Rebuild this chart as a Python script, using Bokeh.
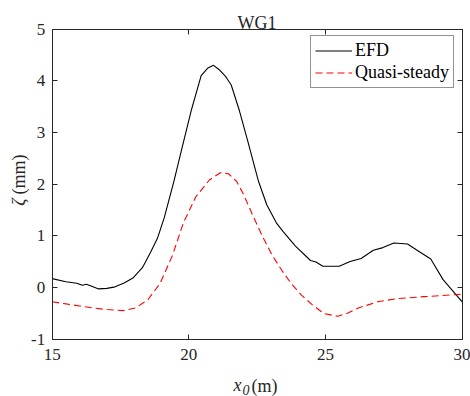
import math
from bokeh.plotting import figure
from bokeh.models import (LinearAxis, Label, Legend, LegendItem, Range1d,
                          FixedTicker, ColumnDataSource)
from bokeh.embed import file_html
from bokeh.resources import INLINE

# ---- data ----
efd_x = [15.0, 15.5, 15.9, 16.1, 16.25, 16.45, 16.7, 17.0, 17.3, 17.65, 17.95,
         18.3, 18.6, 18.85, 19.1, 19.45, 19.75, 20.1, 20.45, 20.7, 20.9, 21.1,
         21.35, 21.55, 21.85, 22.15, 22.55, 22.85, 23.2, 23.45, 23.9, 24.45,
         24.65, 24.9, 25.5, 25.9, 26.3, 26.75, 27.1, 27.5, 28.0, 28.35, 28.85,
         29.3, 30.0]
efd_y = [0.17, 0.11, 0.08, 0.04, 0.06, 0.02, -0.03, -0.02, 0.01, 0.09, 0.18,
         0.38, 0.68, 0.95, 1.35, 2.05, 2.7, 3.45, 4.1, 4.25, 4.30, 4.22,
         4.08, 3.92, 3.42, 2.84, 2.05, 1.6, 1.25, 1.08, 0.80, 0.52,
         0.49, 0.41, 0.41, 0.50, 0.56, 0.72, 0.77, 0.86, 0.84, 0.72, 0.55,
         0.15, -0.28]

qs_x = [15.0, 15.5, 16.0, 16.5, 17.0, 17.6, 18.05, 18.5, 18.95, 19.4, 19.8,
        20.25, 20.75, 21.15, 21.45, 21.75, 22.0, 22.35, 22.7, 23.05, 23.4,
        23.75, 24.1, 24.5, 24.95, 25.45, 25.8, 26.2, 26.9, 27.6, 28.6, 29.8, 30.0]
qs_y = [-0.28, -0.32, -0.36, -0.40, -0.43, -0.45, -0.40, -0.24, 0.08, 0.62, 1.25,
        1.75, 2.08, 2.22, 2.20, 2.05, 1.80, 1.38, 0.98, 0.62, 0.33,
        0.07, -0.14, -0.33, -0.51, -0.56, -0.50, -0.40, -0.28, -0.22, -0.18, -0.14, -0.13]

x_ticks = [15, 20, 25, 30]
y_ticks = [-1, 0, 1, 2, 3, 4, 5]
x_lim = (15, 30)
y_lim = (-1, 5)
title_text = "WG1"
series_names = ["EFD", "Quasi-steady"]

FONT = "Liberation Serif"
AX = "#262626"

# plot box inside the 470x396 canvas (pixels)
W, H = 470, 396
BOX_L, BOX_R, BOX_T, BOX_B = 51.7, 461.7, 28.7, 338.5
sx = (BOX_R - BOX_L) / (x_lim[1] - x_lim[0])
sy = (BOX_B - BOX_T) / (y_lim[1] - y_lim[0])
xr = Range1d(x_lim[0] - BOX_L / sx, x_lim[1] + (W - BOX_R) / sx)
yr_ = Range1d(y_lim[0] - (H - BOX_B) / sy, y_lim[1] + BOX_T / sy)


def px2x(px):
    return x_lim[0] + (px - BOX_L) / sx


def py2y(py):
    return y_lim[0] + (BOX_B - py) / sy


p = figure(width=W, height=H, output_backend="svg", toolbar_location=None,
           x_range=xr, y_range=yr_, min_border=0,
           x_axis_type=None, y_axis_type=None)
p.xgrid.visible = False
p.ygrid.visible = False
p.outline_line_color = None
p.background_fill_color = "white"
p.border_fill_color = "white"


def make_axis(ticks, loc, bounds, labels):
    ax = LinearAxis(ticker=FixedTicker(ticks=ticks), fixed_location=loc,
                    bounds=bounds)
    ax.axis_line_color = AX
    ax.major_tick_line_color = AX
    ax.major_tick_in = 5
    ax.major_tick_out = 0
    ax.minor_tick_line_color = None
    ax.major_label_text_font = FONT
    ax.major_label_text_font_size = "17px"
    ax.major_label_text_color = AX
    if labels:
        ax.major_label_overrides = {t: str(t) for t in ticks}
    else:
        ax.major_label_overrides = {t: "" for t in ticks}
    return ax


xb = make_axis(x_ticks, y_lim[0], x_lim, True)
xb.major_label_standoff = 10
yl = make_axis(y_ticks, x_lim[0], y_lim, True)
yl.major_label_standoff = 7
xt = make_axis(x_ticks, y_lim[1], x_lim, False)
yr = make_axis(y_ticks, x_lim[1], y_lim, False)
p.add_layout(xb, "below")
p.add_layout(yl, "left")
p.add_layout(xt, "above")
p.add_layout(yr, "right")

src_e = ColumnDataSource(dict(x=efd_x, y=efd_y))
src_q = ColumnDataSource(dict(x=qs_x, y=qs_y))
r1 = p.line("x", "y", source=src_e, line_color="black", line_width=1.1)
r2 = p.line("x", "y", source=src_q, line_color="#ff0000", line_width=1.1,
            line_dash="7 4")

leg = Legend(items=[LegendItem(label=series_names[0], renderers=[r1]),
                    LegendItem(label=series_names[1], renderers=[r2])],
             location=(310, H - 87.5))
leg.label_text_font = FONT
leg.label_text_font_size = "18px"
leg.label_text_color = "black"
leg.border_line_color = AX
leg.border_line_width = 1
leg.background_fill_color = "white"
leg.background_fill_alpha = 1
leg.glyph_width = 37
leg.glyph_height = 21
leg.label_height = 21
leg.label_standoff = 3
leg.padding = 4
leg.spacing = 1
leg.margin = 0
p.add_layout(leg)

# title
p.add_layout(Label(x=px2x(256.5), y=py2y(22), text=title_text,
                   text_font=FONT, text_font_size="18px", text_align="center",
                   text_baseline="alphabetic", text_color=AX))
# x label: x_0 (m)
p.add_layout(Label(x=px2x(233), y=py2y(384), text="x",
                   text_font=FONT, text_font_style="italic", text_font_size="18px",
                   text_align="left", text_baseline="alphabetic", text_color=AX))
p.add_layout(Label(x=px2x(242), y=py2y(389.5), text="0",
                   text_font=FONT, text_font_style="italic", text_font_size="14px",
                   text_align="left", text_baseline="alphabetic", text_color=AX))
p.add_layout(Label(x=px2x(251), y=py2y(385), text="(m)",
                   text_font=FONT, text_font_size="18px",
                   text_align="left", text_baseline="alphabetic", text_color=AX))
# y label: zeta (mm)
p.add_layout(Label(x=px2x(18.5), y=py2y(198), text="ζ",
                   angle=math.pi / 2, text_font=FONT, text_font_style="italic",
                   text_font_size="18px", text_align="right",
                   text_baseline="alphabetic", text_color=AX))
p.add_layout(Label(x=px2x(18.5), y=py2y(194), text="(mm)",
                   angle=math.pi / 2, text_font=FONT, text_font_size="18px",
                   text_align="left", text_baseline="alphabetic", text_color=AX))

open("out.html", "w").write(file_html(p, INLINE))
